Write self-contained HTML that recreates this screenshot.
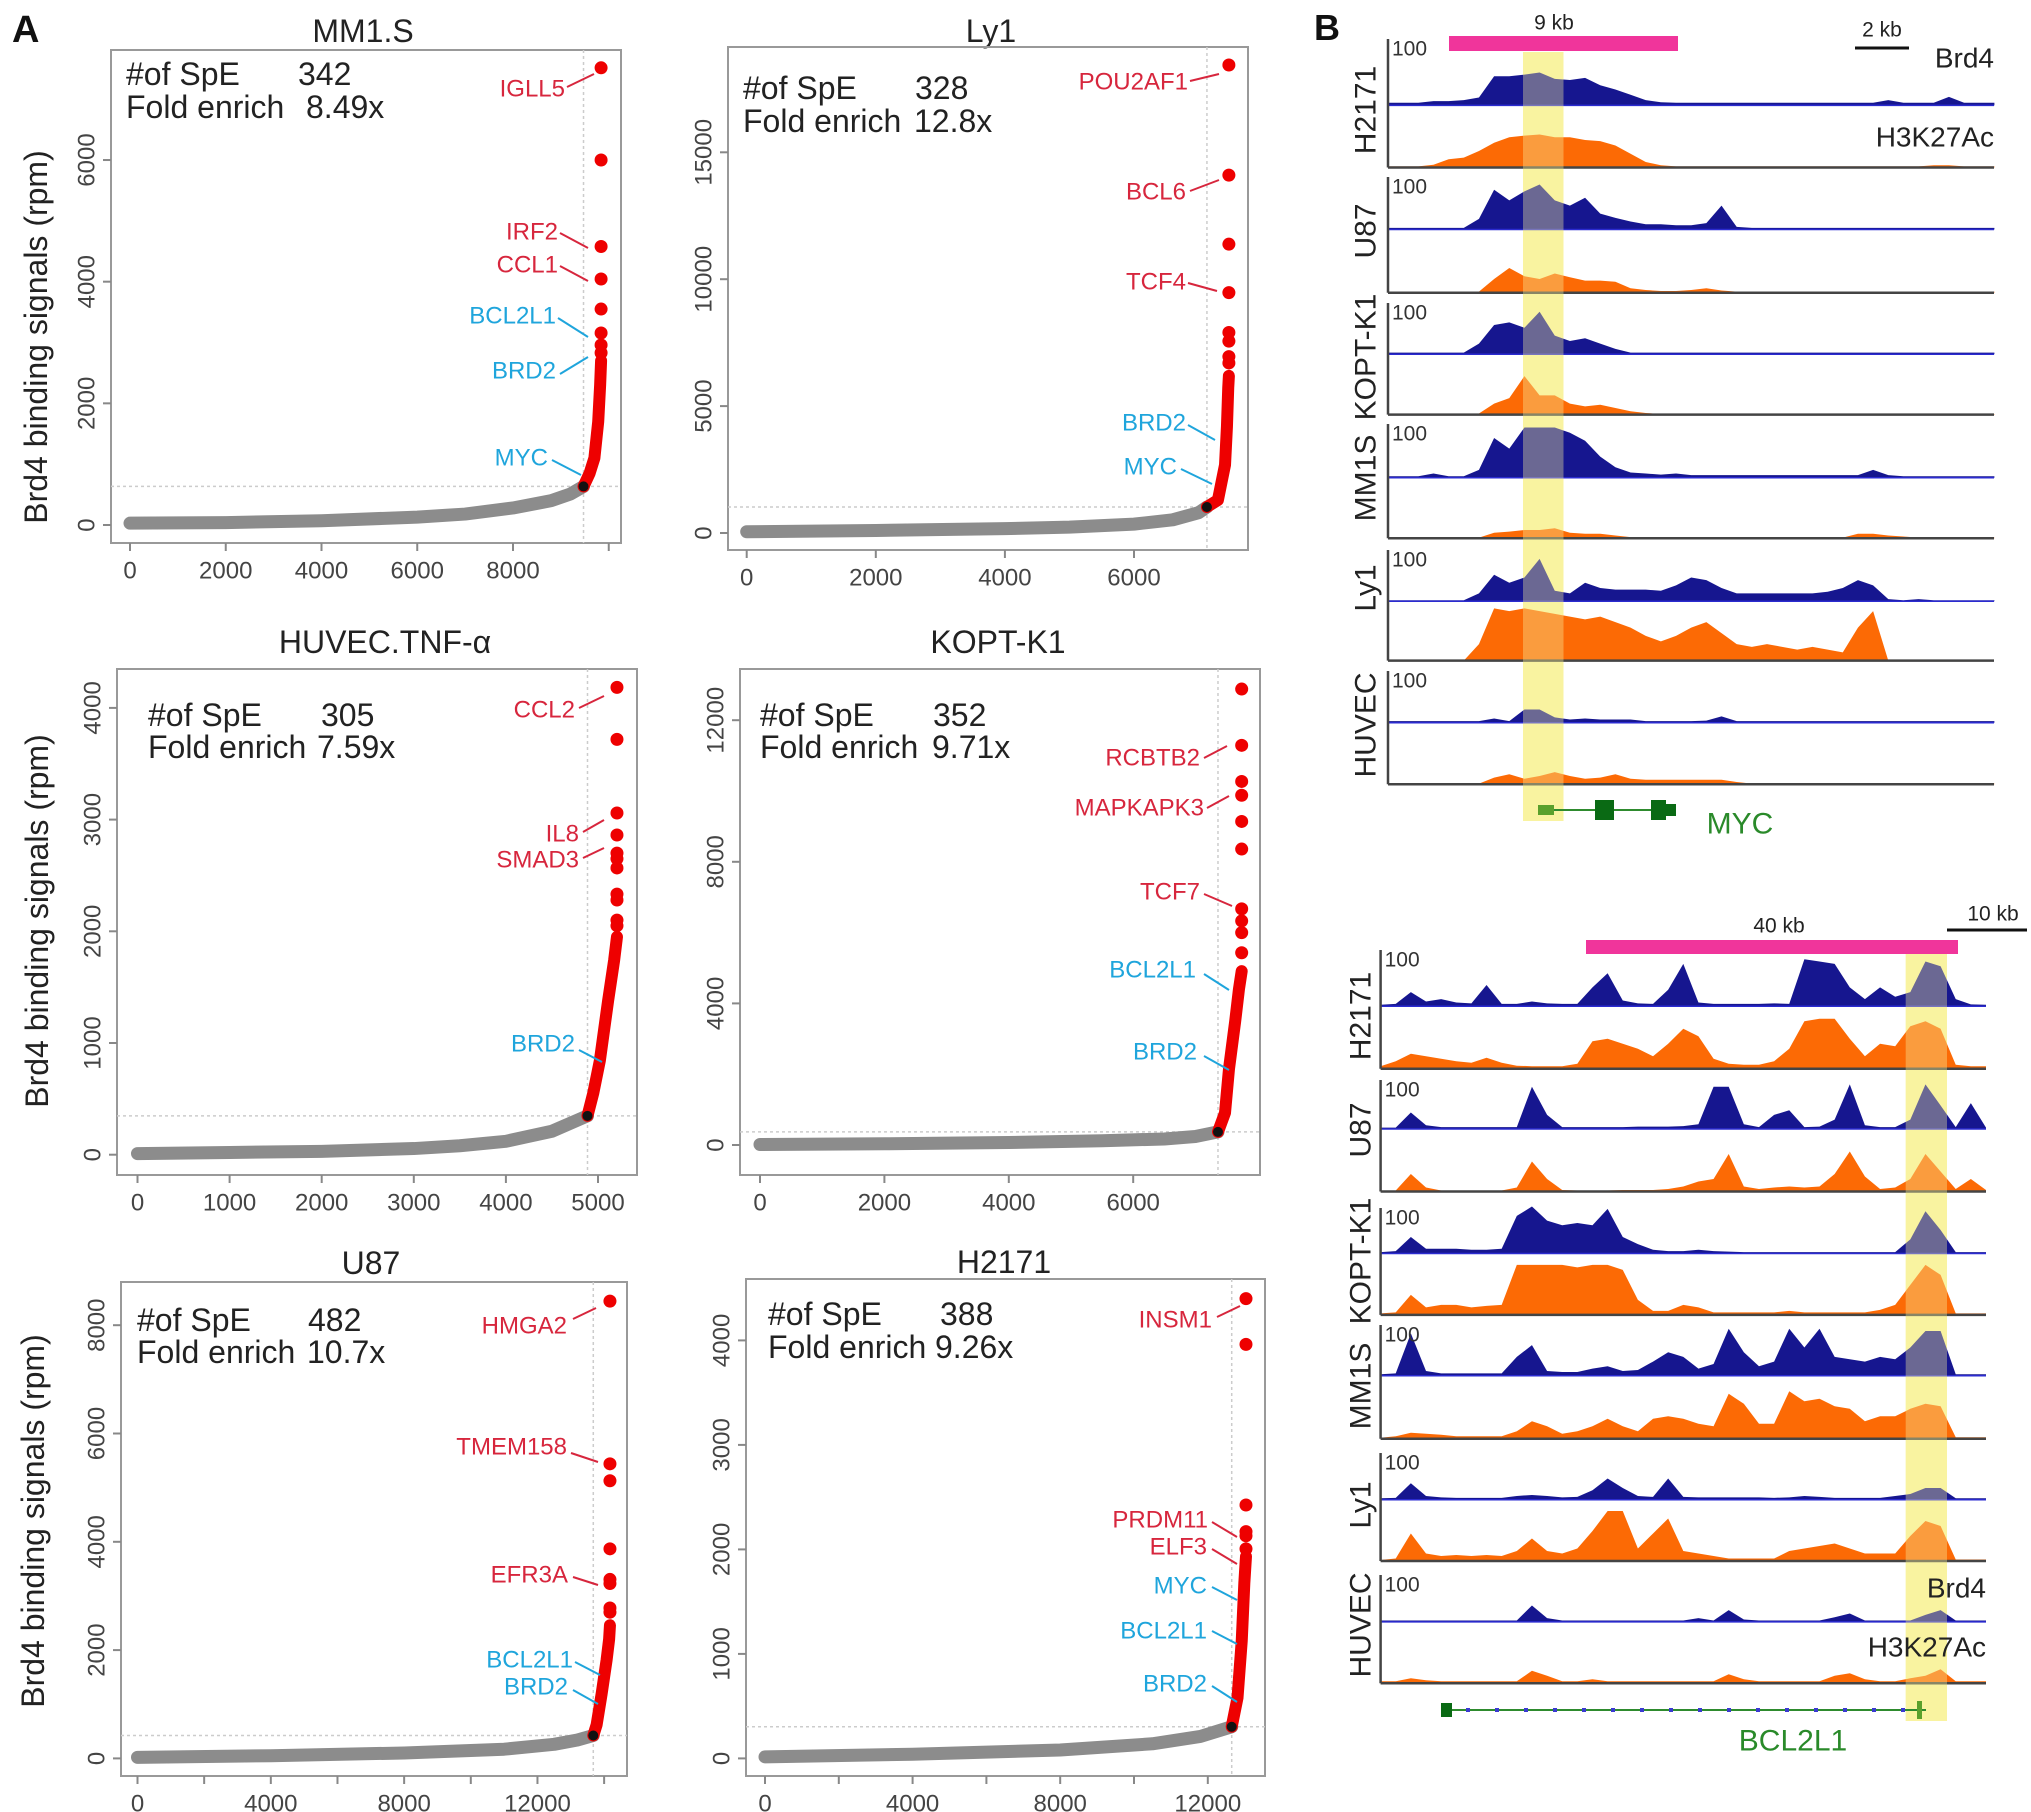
<!DOCTYPE html>
<html><head><meta charset="utf-8">
<style>
html,body{margin:0;padding:0;background:#fff;}
svg{display:block;font-family:"Liberation Sans",Arial,sans-serif;}
</style></head>
<body>
<svg id="fig" width="2031" height="1812" viewBox="0 0 2031 1812" xmlns="http://www.w3.org/2000/svg">
<text x="12" y="42" font-size="38" font-weight="bold" fill="#111">A</text>
<text x="1314" y="40" font-size="36" font-weight="bold" fill="#111">B</text>
<g id="scatters"></g>
<g id="tracks"></g>
</svg>
<script>
// ---------- Panel A data ----------
const mm1sGrayRank=[0,2000,4000,6000,7000,8000,8800,9200,9473];
const mm1sGrayVal=[30,40,70,130,180,280,400,510,634];
const mm1sRedRank=[9473,9600,9700,9780,9820,9840];
const mm1sRedVal=[634,850,1100,1700,2300,2700];
const mm1sTopVal=[2830,2960,3156,3550,4044,4578,6000,7516];

const ly1GrayRank=[0,2000,4000,5000,6000,6600,7000,7130];
const ly1GrayVal=[50,100,170,230,350,520,800,1025];
const ly1RedRank=[7130,7300,7410,7440,7460,7470];
const ly1RedVal=[1025,1300,2680,4200,5730,6190];
const ly1TopVal=[6700,6950,7560,7900,9470,11380,14100,18440];

const huvecGrayRank=[0,1000,2000,3000,3500,4000,4500,4886];
const huvecGrayVal=[10,20,30,55,80,120,210,348];
const huvecRedRank=[4886,4950,5020,5110,5175,5206];
const huvecRedVal=[348,556,842,1380,1740,1950];
const huvecTopVal=[2050,2100,2280,2333,2567,2650,2700,2862,3059,3718,4184];

const koptGrayRank=[0,2000,4000,5500,6500,7000,7363];
const koptGrayVal=[15,35,70,120,170,240,370];
const koptRedRank=[7363,7476,7540,7640,7700,7744];
const koptRedVal=[370,910,2150,3500,4400,4910];
const koptTopVal=[5430,6000,6330,6670,8360,9140,9880,10270,11290,12880];

const u87GrayRank=[0,4000,8000,11000,12500,13200,13675];
const u87GrayVal=[20,50,100,170,260,340,423];
const u87RedRank=[13675,13775,13925,14075,14150,14175];
const u87RedVal=[423,620,1190,1820,2200,2458];
const u87TopVal=[2700,2777,3230,3305,3870,5127,5440,8445];

const h2171GrayRank=[0,4000,8000,10500,11800,12648];
const h2171GrayVal=[15,40,80,140,210,303];
const h2171RedRank=[12648,12805,12920,12990,13020,13035];
const h2171RedVal=[303,580,1127,1678,1850,1932];
const h2171TopVal=[2005,2130,2170,2425,3962,4400];

const panels=[
 {id:'mm1s',title:'MM1.S',tx:363,ty:31,box:[111,50,621,543],x0:130,xp:0.047875,y0:525,yp:0.06083,
  xt:[0,2000,4000,6000,8000,10000],xl:[0,2000,4000,6000,8000],yt:[0,2000,4000,6000],
  gr:mm1sGrayRank,gv:mm1sGrayVal,rr:mm1sRedRank,rv:mm1sRedVal,top:mm1sTopVal,spe:'342',fold:'8.49x',ix:126,iy1:85,iy2:118,nx:298,fx:306,
  labels:[['IGLL5','r',565,89,567,87,594,74],['IRF2','r',558,232,560,233,588,248],['CCL1','r',558,265,560,266,588,281],
   ['BCL2L1','b',556,316,558,318,588,337],['BRD2','b',556,371,560,374,588,357],['MYC','b',548,458,552,460,581,475]],ytx:36,yty:337},
 {id:'ly1',title:'Ly1',tx:991,ty:31,box:[728,47,1248,550],x0:746.7,xp:0.06455,y0:533,yp:0.02538,
  xt:[0,2000,4000,6000],xl:[0,2000,4000,6000],yt:[0,5000,10000,15000],
  gr:ly1GrayRank,gv:ly1GrayVal,rr:ly1RedRank,rv:ly1RedVal,top:ly1TopVal,spe:'328',fold:'12.8x',ix:743,iy1:99,iy2:132,nx:915,fx:914,
  labels:[['POU2AF1','r',1188,82,1190,81,1219,74],['BCL6','r',1186,192,1190,191,1219,180],['TCF4','r',1186,282,1188,283,1217,291],
   ['BRD2','b',1186,423,1188,425,1215,440],['MYC','b',1177,467,1181,469,1212,484]]},
 {id:'huvec',title:'HUVEC.TNF-α',tx:385,ty:642,box:[117,669,637,1175],x0:137.5,xp:0.0921,y0:1154.7,yp:0.1117,
  xt:[0,1000,2000,3000,4000,5000],xl:[0,1000,2000,3000,4000,5000],yt:[0,1000,2000,3000,4000],
  gr:huvecGrayRank,gv:huvecGrayVal,rr:huvecRedRank,rv:huvecRedVal,top:huvecTopVal,spe:'305',fold:'7.59x',ix:148,iy1:726,iy2:758,nx:321,fx:317,
  labels:[['CCL2','r',575,710,579,708,604,696],['IL8','r',579,834,583,832,604,820],['SMAD3','r',579,860,583,858,604,848],
   ['BRD2','b',575,1044,579,1050,602,1062]],ytx:37,yty:921},
 {id:'kopt',title:'KOPT-K1',tx:998,ty:642,box:[740,669,1260,1175],x0:760,xp:0.0622,y0:1145,yp:0.0354,
  xt:[0,2000,4000,6000],xl:[0,2000,4000,6000],yt:[0,4000,8000,12000],
  gr:koptGrayRank,gv:koptGrayVal,rr:koptRedRank,rv:koptRedVal,top:koptTopVal,spe:'352',fold:'9.71x',ix:760,iy1:726,iy2:758,nx:933,fx:932,
  labels:[['RCBTB2','r',1200,758,1204,758,1227,746],['MAPKAPK3','r',1204,808,1207,808,1229,796],['TCF7','r',1200,892,1204,894,1232,906],
   ['BCL2L1','b',1196,970,1204,974,1229,990],['BRD2','b',1197,1052,1204,1056,1229,1070]]},
 {id:'u87',title:'U87',tx:371,ty:1263,box:[121,1282,627,1776],x0:137.5,xp:0.03333,y0:1758.4,yp:0.05415,
  xt:[0,2000,4000,6000,8000,10000,12000,14000],xl:[0,4000,8000,12000],yt:[0,2000,4000,6000,8000],
  gr:u87GrayRank,gv:u87GrayVal,rr:u87RedRank,rv:u87RedVal,top:u87TopVal,spe:'482',fold:'10.7x',ix:137,iy1:1331,iy2:1363,nx:308,fx:307,
  labels:[['HMGA2','r',567,1326,573,1319,596,1308],['TMEM158','r',567,1447,571,1453,598,1462],['EFR3A','r',568,1575,573,1577,598,1585],
   ['BCL2L1','b',573,1660,575,1662,600,1675],['BRD2','b',568,1687,573,1690,598,1704]],ytx:33,yty:1521},
 {id:'h2171',title:'H2171',tx:1004,ty:1262,box:[746,1279,1265,1776],x0:765,xp:0.0369,y0:1758.4,yp:0.1045,
  xt:[0,2000,4000,6000,8000,10000,12000],xl:[0,4000,8000,12000],yt:[0,1000,2000,3000,4000],
  gr:h2171GrayRank,gv:h2171GrayVal,rr:h2171RedRank,rv:h2171RedVal,top:h2171TopVal,spe:'388',fold:'9.26x',ix:768,iy1:1325,iy2:1358,nx:940,fx:935,
  labels:[['INSM1','r',1212,1320,1217,1317,1240,1306],['PRDM11','r',1208,1520,1212,1522,1237,1537],['ELF3','r',1207,1547,1212,1549,1237,1564],
   ['MYC','b',1207,1586,1212,1587,1237,1600],['BCL2L1','b',1207,1631,1212,1631,1237,1644],['BRD2','b',1207,1684,1212,1686,1237,1702]]}
];

const NS='http://www.w3.org/2000/svg';
function mk(tag,attrs,parent){const e=document.createElementNS(NS,tag);for(const k in attrs)e.setAttribute(k,attrs[k]);parent.appendChild(e);return e;}
const root=document.getElementById('scatters');
panels.forEach(p=>{
  const g=mk('g',{},root);
  
  
  const X=v=>p.x0+v*p.xp, Y=v=>p.y0-v*p.yp;
  const [l,t,r,b]=p.box;
  const title=mk('text',{x:p.tx,y:p.ty,'font-size':32,'text-anchor':'middle','dominant-baseline':'central',fill:'#222'},g);
  title.textContent=p.title;
  
  
  const box=mk('rect',{x:l,y:t,width:r-l,height:b-t,fill:'none',stroke:'#999','stroke-width':2},g);
  
  
  p.xt.forEach(v=>{
    const tk=mk('line',{x1:X(v),x2:X(v),y1:b,y2:b+8,stroke:'#888','stroke-width':2},g);
    
    
  });
  p.xl.forEach(v=>{
    const tl=mk('text',{x:X(v),y:b+28,'font-size':24,'text-anchor':'middle','dominant-baseline':'central',fill:'#444'},g);
    tl.textContent=String(v);
    
    
  });
  p.yt.forEach(v=>{
    const tk=mk('line',{x1:l-8,x2:l,y1:Y(v),y2:Y(v),stroke:'#888','stroke-width':2},g);
    
    
    const tl=mk('text',{x:l-24,y:Y(v),'font-size':24,'text-anchor':'middle','dominant-baseline':'central',fill:'#444',transform:`rotate(-90 ${l-24} ${Y(v)})`},g);
    tl.textContent=String(v);
    
    
  });
  const tr=p.rr[0], tv=p.rv[0];
  const hl=mk('line',{x1:l,x2:r,y1:Y(tv),y2:Y(tv),stroke:'#ccc','stroke-width':1.5,'stroke-dasharray':'3 3'},g);
  
  
  const vl=mk('line',{x1:X(tr),x2:X(tr),y1:t,y2:b,stroke:'#ccc','stroke-width':1.5,'stroke-dasharray':'3 3'},g);
  
  
  const gp=mk('polyline',{points:p.gr.map((r2,i)=>X(r2)+','+Y(p.gv[i])).join(' '),fill:'none',stroke:'#8c8c8c','stroke-width':13,'stroke-linecap':'round','stroke-linejoin':'round'},g);
  
  
  const rp=mk('polyline',{points:p.rr.map((r2,i)=>X(r2)+','+Y(p.rv[i])).join(' '),fill:'none',stroke:'#ee0000','stroke-width':12,'stroke-linecap':'round','stroke-linejoin':'round'},g);
  
  
  const topR=p.rr[p.rr.length-1];
  p.top.forEach(v=>{
    const c=mk('circle',{cx:X(topR),cy:Y(v),r:6.5,fill:'#ee0000'},g);
    
    
  });
  const td=mk('circle',{cx:X(tr),cy:Y(tv),r:5,fill:'#111'},g);
  
  
  const i1=mk('text',{x:p.ix,y:p.iy1,'font-size':32,fill:'#222'},g);
  i1.textContent='#of SpE';
  
  
  const n1=mk('text',{x:p.nx,y:p.iy1,'font-size':32,fill:'#222'},g);
  n1.textContent=p.spe;
  
  
  const i2=mk('text',{x:p.ix,y:p.iy2,'font-size':32,fill:'#222'},g);
  i2.textContent='Fold enrich';
  
  
  const n2=mk('text',{x:p.fx,y:p.iy2,'font-size':32,fill:'#222'},g);
  n2.textContent=p.fold;
  
  
  p.labels.forEach(L=>{
    const col=L[1]==='r'?'#d7263d':'#1fa5dc';
    const ln=mk('line',{x1:L[4],y1:L[5],x2:L[6],y2:L[7],stroke:col,'stroke-width':2},g);
    
    
    const tx=mk('text',{x:L[2],y:L[3],'font-size':24,'text-anchor':'end','dominant-baseline':'central',fill:col},g);
    tx.textContent=L[0];
    
    
  });
  if(p.ytx){
    const yt=mk('text',{x:p.ytx,y:p.yty,'font-size':32,'text-anchor':'middle','dominant-baseline':'central',fill:'#222',transform:`rotate(-90 ${p.ytx} ${p.yty})`},g);
    yt.textContent='Brd4 binding signals (rpm)';
    
    
  }
});

// ---------- Panel B data (signal, 0-100 scale, 41 bins) ----------
const cellLines=['H2171','U87','KOPT-K1','MM1S','Ly1','HUVEC'];
const mycBrd4=[
 [5,5,5,8,8,10,15,55,55,58,62,50,48,52,38,30,20,10,6,5,5,5,5,5,5,5,5,5,5,5,5,5,5,10,5,5,5,16,5,5,5],
 [3,3,3,3,3,3,20,75,55,72,85,55,45,60,30,22,15,10,10,8,8,12,45,5,3,3,3,3,3,3,3,3,3,3,3,3,3,3,3,3,3],
 [3,3,3,3,3,3,20,55,60,50,80,35,25,30,20,10,3,3,3,3,3,3,3,3,3,3,3,3,3,3,3,3,3,3,3,3,3,3,3,3,3],
 [3,3,3,8,3,3,15,75,55,95,95,95,85,70,40,20,10,8,6,8,5,5,5,5,5,5,5,5,5,5,5,5,15,5,3,3,3,3,3,3,3],
 [2,2,2,2,2,2,15,50,35,45,80,20,15,35,25,22,22,22,20,30,45,40,25,15,15,15,15,15,15,18,25,40,30,4,2,4,2,2,2,2,2],
 [3,3,3,3,3,3,3,8,3,25,25,10,6,8,6,6,6,3,3,3,3,4,12,3,3,3,3,3,3,3,3,3,3,3,3,3,3,3,3,3,3]];
const mycH3k=[
 [2,2,2,5,15,18,30,45,55,58,60,55,55,50,48,40,25,10,4,2,2,2,2,2,2,2,2,2,2,2,2,2,2,2,2,2,4,4,2,2,2],
 [2,2,2,2,2,2,2,25,45,30,25,35,28,22,22,20,8,5,3,3,5,8,4,2,2,2,2,2,2,2,2,2,2,2,2,2,2,2,2,2,2],
 [2,2,2,2,2,2,2,20,30,70,35,35,20,15,18,12,6,3,1,1,1,1,1,1,1,1,1,1,1,1,1,1,1,1,1,1,1,1,1,1,1],
 [1,1,1,1,1,1,1,10,12,15,15,18,10,8,8,5,2,1,1,1,1,1,1,1,1,1,1,1,1,1,1,8,8,5,3,1,1,1,1,1,1],
 [0,0,0,0,0,0,30,95,90,95,90,85,80,75,80,70,60,45,35,45,60,70,50,30,25,30,25,20,25,20,15,60,90,0,0,0,0,0,0,0,0],
 [1,1,1,1,1,1,1,12,18,10,15,22,15,10,12,18,10,8,8,8,8,8,8,4,1,1,1,1,1,1,1,1,1,1,1,1,1,1,1,1,1]];
const bclBrd4=[
 [3,5,30,10,15,8,6,45,5,5,10,6,5,5,40,70,12,6,5,35,90,8,5,5,5,5,6,5,100,95,90,40,15,40,20,30,95,85,15,4,3],
 [3,3,35,8,4,4,4,4,4,4,90,30,4,4,4,4,4,5,5,5,6,10,90,90,10,4,30,40,4,5,20,95,8,4,4,20,95,50,4,55,3],
 [3,5,35,10,10,10,8,8,10,80,100,70,60,65,60,95,35,20,8,5,5,8,5,4,3,3,3,3,3,3,3,3,3,3,3,30,90,50,3,3,3],
 [3,5,90,10,5,5,5,5,5,40,65,10,8,8,15,20,10,12,30,50,40,15,25,100,50,20,30,100,60,100,40,35,30,40,35,60,95,95,3,3,3],
 [3,4,35,8,5,4,4,4,4,8,10,8,5,6,20,45,25,8,6,45,6,5,5,5,5,5,4,5,8,6,4,4,4,4,8,12,25,25,3,3,3],
 [3,3,3,3,3,3,3,3,3,3,35,8,3,3,3,3,3,3,3,3,3,8,3,25,5,3,3,3,3,3,10,18,3,3,3,3,15,25,3,3,3]];
const bclH3k=[
 [5,15,30,25,20,15,12,22,12,6,5,5,5,10,55,60,50,40,25,50,80,65,20,10,8,8,15,40,95,100,100,60,25,50,45,85,95,80,8,5,5],
 [2,2,35,8,2,2,2,2,2,8,60,25,3,2,2,2,3,3,3,5,10,20,25,75,10,5,8,10,8,10,35,80,30,5,8,25,75,40,5,25,3],
 [3,5,40,15,20,20,15,18,20,100,100,100,100,95,100,100,90,30,8,8,20,15,5,5,5,5,5,8,5,5,5,5,5,10,20,60,100,80,3,3,3],
 [2,5,12,10,8,5,5,5,5,15,35,25,10,15,25,40,25,15,40,45,40,30,25,90,70,30,30,95,75,80,65,60,35,45,45,60,70,65,3,3,3],
 [2,5,55,15,10,12,10,12,10,20,45,20,15,25,60,100,100,25,55,85,20,15,10,5,5,5,5,20,25,30,35,25,15,15,15,50,80,70,3,3,3],
 [4,4,10,6,4,4,4,4,4,4,25,15,4,4,8,4,4,4,4,4,4,4,4,18,8,4,4,4,4,4,15,20,8,4,4,10,15,28,4,4,4]];

const tracksCfg=[
 {name:'myc',x0:1388,step:15.16,x1:1994,bH:53,hH:55,
  base:[[105.4,167.5],[229.5,292.7],[354.2,414.6],[477.8,538.2],[601.3,660.6],[722.7,784.2]],
  hundred:[49,187,313,434,560,681],labX:1366,labY:[110,231,357,478,588,725],brd:mycBrd4,h3k:mycH3k,
  hl:[1523,52,1563.5,821]},
 {name:'bcl2l1',x0:1380.6,step:15.135,x1:1986,bH:47,hH:50,
  base:[[1006.2,1068.7],[1129,1191.5],[1253.5,1314.9],[1375.7,1438.8],[1499.7,1561],[1621.9,1683.3]],
  hundred:[960,1090,1218,1335,1463,1585],labX:1361,labY:[1016,1130,1261,1386,1505,1625],brd:bclBrd4,h3k:bclH3k,
  hl:[1905.7,954,1947,1721]}
];
const troot=document.getElementById('tracks');
tracksCfg.forEach(T=>{
  const g=mk('g',{},troot);
  
  
  const y1=mk('rect',{x:T.hl[0],y:T.hl[1],width:T.hl[2]-T.hl[0],height:T.hl[3]-T.hl[1],fill:'#fbf6a4'},g);
  
  
  const area=(vals,base,h,col,nm)=>{
    let pts=`${T.x0},${base} `+vals.map((v,i)=>`${T.x0+i*T.step},${base-Math.min(v,100)/100*h}`).join(' ')+` ${T.x0+(vals.length-1)*T.step},${base}`;
    const a=mk('polygon',{points:pts,fill:col},g);
    
    
  };
  cellLines.forEach((cl,k)=>{
    const [bb,hb]=T.base[k];
    area(T.brd[k],bb,T.bH,'#16168f','brd4-track');
    area(T.h3k[k],hb,T.hH,'#fc6a05','h3k27ac-track');
    const bl=mk('line',{x1:T.x0,x2:T.x1,y1:bb,y2:bb,stroke:'#2b2bd0','stroke-width':1.5},g);
    
    
    const hbl=mk('line',{x1:T.x0,x2:T.x1,y1:hb,y2:hb,stroke:'#444','stroke-width':2.5},g);
    
    
    const ax=mk('line',{x1:T.x0,x2:T.x0,y1:T.hundred[k]-10,y2:hb,stroke:'#444','stroke-width':2.5},g);
    
    
    const h=mk('text',{x:T.x0+4,y:T.hundred[k],'font-size':21,'dominant-baseline':'central',fill:'#333'},g);
    h.textContent='100';
    
    
    const lb=mk('text',{x:T.labX,y:T.labY[k],'font-size':30,'text-anchor':'middle','dominant-baseline':'central',fill:'#222',transform:`rotate(-90 ${T.labX} ${T.labY[k]})`},g);
    lb.textContent=cl;
    
    
  });
  const y2=mk('rect',{x:T.hl[0],y:T.hl[1],width:T.hl[2]-T.hl[0],height:T.hl[3]-T.hl[1],fill:'#f6ee9c','fill-opacity':0.38},g);
  
  
});
</script>
<g></g>
<svg width="0" height="0"></svg>
<script>
const fig=document.getElementById('fig');
function add(tag,attrs,text,name){const e=document.createElementNS('http://www.w3.org/2000/svg',tag);for(const k in attrs)e.setAttribute(k,attrs[k]);if(text)e.textContent=text;


fig.appendChild(e);return e;}
// upper region annotations
add('rect',{x:1449,y:36,width:229,height:15,fill:'#f0359b'},null,'region-bar-9kb');
add('text',{x:1554,y:23,'font-size':21,'text-anchor':'middle','dominant-baseline':'central',fill:'#222'},'9 kb','region-size-label');
add('line',{x1:1855,x2:1909,y1:48,y2:48,stroke:'#111','stroke-width':3},null,'scale-bar-2kb');
add('text',{x:1882,y:30,'font-size':21,'text-anchor':'middle','dominant-baseline':'central',fill:'#222'},'2 kb','scale-bar-label');
add('text',{x:1994,y:58,'font-size':28,'text-anchor':'end','dominant-baseline':'central',fill:'#222'},'Brd4','brd4-legend');
add('text',{x:1994,y:137,'font-size':28,'text-anchor':'end','dominant-baseline':'central',fill:'#222'},'H3K27Ac','h3k27ac-legend');
add('line',{x1:1538,x2:1676,y1:810,y2:810,stroke:'#2e8b2e','stroke-width':2},null,'myc-gene-line');
add('rect',{x:1538,y:805,width:16,height:10,fill:'#5aa02c'},null,'myc-exon-1');
add('rect',{x:1595,y:800,width:19,height:20,fill:'#0a6a14'},null,'myc-exon-2');
add('rect',{x:1651,y:800,width:15,height:20,fill:'#0a6a14'},null,'myc-exon-3');
add('rect',{x:1666,y:804,width:10,height:12,fill:'#0a6a14'},null,'myc-utr');
add('text',{x:1740,y:824,'font-size':30,'text-anchor':'middle','dominant-baseline':'central',fill:'#2a8a2a'},'MYC','myc-gene-label');
// lower region annotations
add('rect',{x:1586,y:940,width:372,height:14,fill:'#f0359b'},null,'region-bar-40kb');
add('text',{x:1779,y:926,'font-size':21,'text-anchor':'middle','dominant-baseline':'central',fill:'#222'},'40 kb','region-size-label-40kb');
add('line',{x1:1947,x2:2027,y1:930,y2:930,stroke:'#111','stroke-width':3},null,'scale-bar-10kb');
add('text',{x:1993,y:914,'font-size':21,'text-anchor':'middle','dominant-baseline':'central',fill:'#222'},'10 kb','scale-bar-label-10kb');
add('text',{x:1986,y:1588,'font-size':28,'text-anchor':'end','dominant-baseline':'central',fill:'#222'},'Brd4','brd4-legend-lower');
add('text',{x:1986,y:1647,'font-size':28,'text-anchor':'end','dominant-baseline':'central',fill:'#222'},'H3K27Ac','h3k27ac-legend-lower');
add('line',{x1:1442,x2:1926,y1:1710,y2:1710,stroke:'#2e8b2e','stroke-width':2},null,'bcl2l1-gene-line');
for(let x=1466;x<1915;x+=29){add('rect',{x:x,y:1708,width:4,height:4,fill:'#3a3ad0'},null,'strand-arrow');}
add('rect',{x:1441,y:1703,width:11,height:14,fill:'#0a6a14'},null,'bcl2l1-exon-1');
add('rect',{x:1917,y:1701,width:5,height:18,fill:'#5aa02c'},null,'bcl2l1-exon-2');
add('text',{x:1793,y:1741,'font-size':30,'text-anchor':'middle','dominant-baseline':'central',fill:'#2a8a2a'},'BCL2L1','bcl2l1-gene-label');
</script>
</body></html>
